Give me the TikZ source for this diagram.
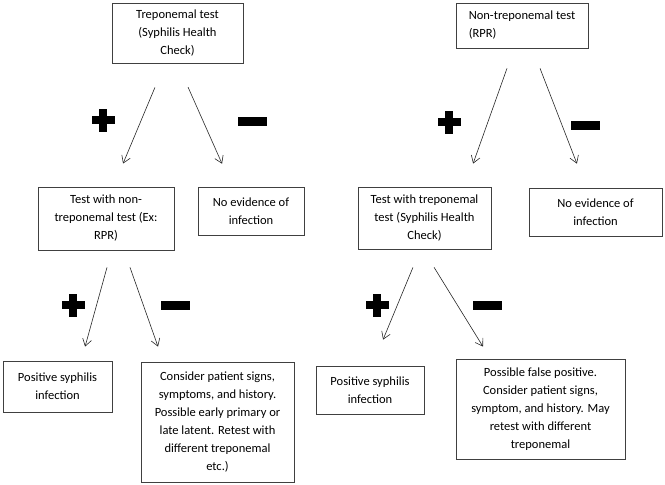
\documentclass[tikz,border=0pt]{standalone}
\usepackage{fontspec}
\setmainfont{Carlito}
\usetikzlibrary{arrows.meta}

\begin{document}
\begin{tikzpicture}[
    x=1pt, y=-1pt,
    box/.style={rectangle, draw=black!75, line width=0.8pt, inner sep=2pt, align=center, text=black, font=\fontsize{12.5}{18}\selectfont},
    arrow/.style={-{Straight Barb[length=7pt, width=9pt]}, line width=0.6pt, black!85},
    plusmark/.pic={\fill (-11.5,-4) rectangle (11.5,4); \fill (-4,-11.5) rectangle (4,11.5);},
    minusmark/.pic={\fill (-14.5,-4.5) rectangle (14.5,4.5);}
]
\useasboundingbox (0,0) rectangle (665,485);

% Nodes
\node[box, minimum width=131, minimum height=60] (tretest) at (177.5,33) {Treponemal test\\(Syphilis Health\\Check)};
\node[box, minimum width=136, minimum height=63] (nontretest) at (106,218.5) {Test with non-\\treponemal test (Ex:\\RPR)};
\node[box, minimum width=106, minimum height=48] (noevid1) at (251,211) {No evidence of\\infection};
\node[box, minimum width=109, minimum height=51] (possyph1) at (57.5,386.5) {Positive syphilis\\infection};
\node[box, minimum width=153, minimum height=120] (consider) at (217.5,422) {Consider patient signs,\\symptoms, and history.\\Possible early primary or\\late latent. Retest with\\different treponemal\\etc.)};

\node[box, align=left, minimum width=132, minimum height=45] (nontre) at (522,25.5) {Non-treponemal test\\(RPR)};
\node[box, minimum width=133, minimum height=62] (tretest2) at (424.5,218) {Test with treponemal\\test (Syphilis Health\\Check)};
\node[box, minimum width=133, minimum height=48] (noevid2) at (595.5,212) {No evidence of\\infection};
\node[box, minimum width=108, minimum height=48] (possyph2) at (370,390) {Positive syphilis\\infection};
\node[box, minimum width=169, minimum height=100] (falsepos) at (540.5,409) {Possible false positive.\\Consider patient signs,\\symptom, and history. May\\retest with different\\treponemal};

% Arrows
\draw[arrow, shorten <=26pt, shorten >=25pt] ([xshift=-12.5pt]tretest.south) -- ([xshift=7.4pt]nontretest.north);
\draw[arrow, shorten <=26pt, shorten >=25pt] (tretest.south) -- ([xshift=-18.8pt]noevid1.north);
\draw[arrow, shorten <=17.6pt, shorten >=14.5pt] ([xshift=5.7pt]nontretest.south) -- ([xshift=23.7pt]possyph1.north);
\draw[arrow, shorten <=18pt, shorten >=15.9pt] ([xshift=18pt]nontretest.south) -- ([xshift=-54.2pt]consider.north);

\draw[arrow, shorten <=21.2pt, shorten >=24.4pt] ([xshift=-7.9pt]nontre.south) -- ([xshift=40.4pt]tretest2.north);
\draw[arrow, shorten <=21.4pt, shorten >=25.7pt] ([xshift=10.3pt]nontre.south) -- ([xshift=-9.3pt]noevid2.north);
\draw[arrow, shorten <=19.5pt, shorten >=28.1pt] ([xshift=-4.1pt]tretest2.south) -- ([xshift=2.3pt]possyph2.north);
\draw[arrow, shorten <=21.1pt, shorten >=14.1pt] ([xshift=-1.5pt]tretest2.south) -- ([xshift=-50.1pt]falsepos.north);

% Signs
\pic at (103,120) {plusmark};
\pic at (252,121) {minusmark};
\pic at (449,122) {plusmark};
\pic at (585,125) {minusmark};
\pic at (73,305) {plusmark};
\pic at (175,305) {minusmark};
\pic at (377,305) {plusmark};
\pic at (487,305) {minusmark};

\end{tikzpicture}
\end{document}
